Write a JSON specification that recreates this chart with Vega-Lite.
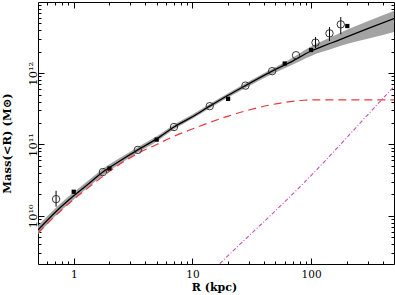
{
  "$schema": "https://vega.github.io/schema/vega-lite/v6.json",
  "width": 356,
  "height": 262,
  "autosize": {"type": "none"},
  "padding": {"left": 38, "top": 2, "right": 1, "bottom": 31},
  "background": "white",
  "config": {
    "view": {"stroke": "black", "strokeWidth": 1},
    "axis": {
      "domain": false,
      "grid": false,
      "tickColor": "black",
      "tickWidth": 1,
      "labelFont": "DejaVu Serif",
      "labelFontSize": 10,
      "labelColor": "black",
      "labelOverlap": false,
      "labelFlush": false,
      "titleFont": "DejaVu Serif",
      "titleFontWeight": "bold",
      "titleColor": "black"
    }
  },
  "datasets": {
    "model": [
      {"R": 0.5, "M": 6.3e9, "lo": 5.48e9, "hi": 7.24e9},
      {"R": 0.7, "M": 1.12e10, "lo": 9.88e9, "hi": 1.27e10},
      {"R": 1, "M": 1.9e10, "lo": 1.69e10, "hi": 2.13e10},
      {"R": 1.4, "M": 3.0e10, "lo": 2.69e10, "hi": 3.35e10},
      {"R": 1.76, "M": 4.1e10, "lo": 3.69e10, "hi": 4.56e10},
      {"R": 2.5, "M": 6.0e10, "lo": 5.45e10, "hi": 6.61e10},
      {"R": 3.47, "M": 8.4e10, "lo": 7.7e10, "hi": 9.17e10},
      {"R": 5, "M": 1.2e11, "lo": 1.1e11, "hi": 1.3e11},
      {"R": 7, "M": 1.76e11, "lo": 1.63e11, "hi": 1.89e11},
      {"R": 10, "M": 2.45e11, "lo": 2.29e11, "hi": 2.63e11},
      {"R": 14, "M": 3.45e11, "lo": 3.22e11, "hi": 3.7e11},
      {"R": 20, "M": 4.9e11, "lo": 4.57e11, "hi": 5.25e11},
      {"R": 28, "M": 6.7e11, "lo": 6.22e11, "hi": 7.22e11},
      {"R": 47, "M": 1.07e12, "lo": 9.76e11, "hi": 1.16e12},
      {"R": 66, "M": 1.41e12, "lo": 1.26e12, "hi": 1.56e12},
      {"R": 100, "M": 2.05e12, "lo": 1.75e12, "hi": 2.38e12},
      {"R": 150, "M": 2.68e12, "lo": 2.2e12, "hi": 3.26e12},
      {"R": 200, "M": 3.24e12, "lo": 2.57e12, "hi": 4.08e12},
      {"R": 300, "M": 4.22e12, "lo": 3.05e12, "hi": 5.38e12},
      {"R": 500, "M": 5.87e12, "lo": 3.8e12, "hi": 7.5e12}
    ],
    "disk": [
      {"R": 0.5, "M": 5.7e9},
      {"R": 0.7, "M": 1.0e10},
      {"R": 1, "M": 1.7e10},
      {"R": 1.4, "M": 2.65e10},
      {"R": 2, "M": 4.2e10},
      {"R": 3.47, "M": 7.5e10},
      {"R": 5, "M": 1.0e11},
      {"R": 6.6, "M": 1.25e11},
      {"R": 10.5, "M": 1.7e11},
      {"R": 20, "M": 2.5e11},
      {"R": 30, "M": 3.05e11},
      {"R": 45, "M": 3.58e11},
      {"R": 66.5, "M": 4.0e11},
      {"R": 86, "M": 4.18e11},
      {"R": 110, "M": 4.23e11},
      {"R": 500, "M": 4.23e11}
    ],
    "gas": [
      {"R": 15, "M": 1.73e9},
      {"R": 16.7, "M": 2.06e9},
      {"R": 90.7, "M": 3.1e10},
      {"R": 455, "M": 5.5e11},
      {"R": 500, "M": 6.5e11}
    ],
    "circles": [
      {"R": 0.71, "M": 1.71e10, "lo": 1.34e10, "hi": 2.24e10},
      {"R": 1.76, "M": 4.1e10, "lo": 4.1e10, "hi": 4.1e10},
      {"R": 3.47, "M": 8.4e10, "lo": 8.4e10, "hi": 8.4e10},
      {"R": 7, "M": 1.76e11, "lo": 1.76e11, "hi": 1.76e11},
      {"R": 14, "M": 3.45e11, "lo": 3.45e11, "hi": 3.45e11},
      {"R": 28, "M": 6.7e11, "lo": 6.7e11, "hi": 6.7e11},
      {"R": 47, "M": 1.07e12, "lo": 1.07e12, "hi": 1.07e12},
      {"R": 74.7, "M": 1.79e12, "lo": 1.79e12, "hi": 1.79e12},
      {"R": 109, "M": 2.69e12, "lo": 2.26e12, "hi": 3.22e12},
      {"R": 143, "M": 3.63e12, "lo": 2.83e12, "hi": 4.45e12},
      {"R": 178, "M": 4.85e12, "lo": 3.52e12, "hi": 6.14e12}
    ],
    "squares": [
      {"R": 1, "M": 2.17e10},
      {"R": 2, "M": 4.6e10},
      {"R": 5, "M": 1.17e11},
      {"R": 20, "M": 4.37e11},
      {"R": 60, "M": 1.37e12},
      {"R": 100, "M": 2.12e12},
      {"R": 202, "M": 4.6e12}
    ]
  },
  "layer": [
    {
      "data": {"name": "model"},
      "mark": {"type": "area", "color": "#a3a3a3", "interpolate": "monotone", "clip": true},
      "encoding": {
        "x": {
          "field": "R", "type": "quantitative",
          "scale": {"type": "log", "domain": [0.5, 500], "nice": false},
          "axis": {
            "orient": "bottom",
            "values": [0.6,0.7,0.8,0.9,1,2,3,4,5,6,7,8,9,10,20,30,40,50,60,70,80,90,100,200,300,400],
            "tickSize": {"condition": {"test": "datum.value == 1 || datum.value == 10 || datum.value == 100", "value": -6}, "value": -3},
            "labelPadding": 11,
            "labelFontSize": 10.5,
            "labelExpr": "datum.value == 1 ? '1' : datum.value == 10 ? '10' : datum.value == 100 ? '100' : ''",
            "title": "R (kpc)",
            "titleFontSize": 11,
            "titleAlign": "center",
            "titleBaseline": "middle",
            "titleX": 176,
            "titleY": 23
          }
        },
        "y": {
          "field": "lo", "type": "quantitative",
          "scale": {"type": "log", "domain": [2.1e9, 1e13], "nice": false},
          "axis": {
            "orient": "left",
            "values": [3e9,4e9,5e9,6e9,7e9,8e9,9e9,1e10,2e10,3e10,4e10,5e10,6e10,7e10,8e10,9e10,1e11,2e11,3e11,4e11,5e11,6e11,7e11,8e11,9e11,1e12,2e12,3e12,4e12,5e12,6e12,7e12,8e12,9e12],
            "tickSize": {"condition": {"test": "datum.value == 1e10 || datum.value == 1e11 || datum.value == 1e12", "value": -6}, "value": -3},
            "labelAngle": -90,
            "labelAlign": "center",
            "labelBaseline": "bottom",
            "labelPadding": 6,
            "labelFontSize": 11.5,
            "labelExpr": "datum.value == 1e10 ? '10¹⁰' : datum.value == 1e11 ? '10¹¹' : datum.value == 1e12 ? '10¹²' : ''",
            "title": "Mass(<R) (M⊙)",
            "titleFontSize": 11.5,
            "titleAngle": -90,
            "titleAlign": "center",
            "titleBaseline": "middle",
            "titleX": -31,
            "titleY": 141
          }
        },
        "y2": {"field": "hi"}
      }
    },
    {
      "data": {"name": "model"},
      "mark": {"type": "line", "color": "black", "strokeWidth": 1.3, "interpolate": "monotone", "clip": true},
      "encoding": {
        "x": {
          "field": "R", "type": "quantitative",
          "scale": {"type": "log", "domain": [0.5, 500], "nice": false},
          "axis": {
            "orient": "top",
            "values": [0.6,0.7,0.8,0.9,1,2,3,4,5,6,7,8,9,10,20,30,40,50,60,70,80,90,100,200,300,400],
            "tickSize": {"condition": {"test": "datum.value == 1 || datum.value == 10 || datum.value == 100", "value": -6}, "value": -3},
            "labels": false,
            "title": null
          }
        },
        "y": {
          "field": "M", "type": "quantitative",
          "scale": {"type": "log", "domain": [2.1e9, 1e13], "nice": false},
          "axis": {
            "orient": "right",
            "values": [3e9,4e9,5e9,6e9,7e9,8e9,9e9,1e10,2e10,3e10,4e10,5e10,6e10,7e10,8e10,9e10,1e11,2e11,3e11,4e11,5e11,6e11,7e11,8e11,9e11,1e12,2e12,3e12,4e12,5e12,6e12,7e12,8e12,9e12],
            "tickSize": {"condition": {"test": "datum.value == 1e10 || datum.value == 1e11 || datum.value == 1e12", "value": -6}, "value": -3},
            "labels": false,
            "title": null
          }
        }
      }
    },
    {
      "data": {"name": "disk"},
      "mark": {"type": "line", "color": "#e8383d", "strokeWidth": 1.2, "strokeDash": [8, 5], "interpolate": "monotone", "clip": true},
      "encoding": {
        "x": {"field": "R", "type": "quantitative", "axis": null},
        "y": {"field": "M", "type": "quantitative", "axis": null}
      }
    },
    {
      "data": {"name": "gas"},
      "mark": {"type": "line", "color": "#c850b4", "strokeWidth": 1.1, "strokeDash": [4, 2, 1, 2], "interpolate": "monotone", "clip": true},
      "encoding": {
        "x": {"field": "R", "type": "quantitative", "axis": null},
        "y": {"field": "M", "type": "quantitative", "axis": null}
      }
    },
    {
      "data": {"name": "circles"},
      "mark": {"type": "rule", "color": "black", "strokeWidth": 1, "clip": true},
      "encoding": {
        "x": {"field": "R", "type": "quantitative", "axis": null},
        "y": {"field": "lo", "type": "quantitative", "axis": null},
        "y2": {"field": "hi"}
      }
    },
    {
      "data": {"name": "circles"},
      "mark": {"type": "point", "shape": "circle", "filled": false, "stroke": "#222222", "strokeWidth": 0.9, "size": 55, "opacity": 1},
      "encoding": {
        "x": {"field": "R", "type": "quantitative", "axis": null},
        "y": {"field": "M", "type": "quantitative", "axis": null}
      }
    },
    {
      "data": {"name": "squares"},
      "mark": {"type": "point", "shape": "square", "filled": true, "color": "black", "size": 18, "opacity": 1},
      "encoding": {
        "x": {"field": "R", "type": "quantitative", "axis": null},
        "y": {"field": "M", "type": "quantitative", "axis": null}
      }
    }
  ],
  "resolve": {"axis": {"x": "independent", "y": "independent"}}
}
